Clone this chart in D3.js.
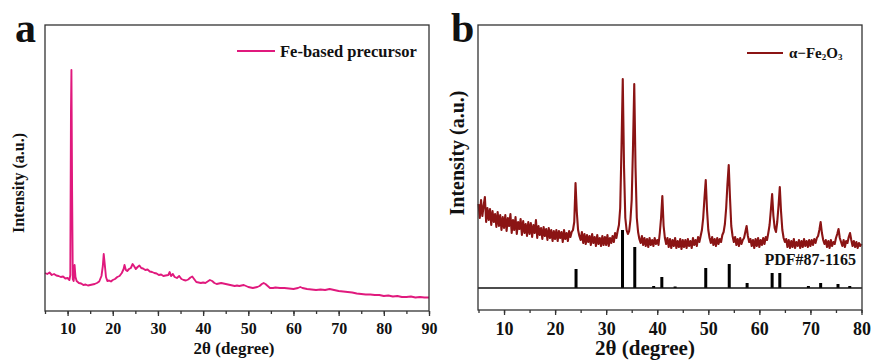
<!DOCTYPE html>
<html>
<head>
<meta charset="utf-8">
<script src="https://cdn.jsdelivr.net/npm/d3@7"></script>
<style>
  body { margin: 0; background: #fff; }
  svg text { font-family: "Liberation Serif", "Times New Roman", serif; font-weight: bold; fill: #111; }
</style>
</head>
<body>
<svg id="chart" width="871" height="360"></svg>
<script>
// panel a : Fe-based precursor, [2theta, intensity]
var precursor = [
  [5,38],[5.5,37],[6,38.5],[6.5,36],[7,37],[7.5,35.5],[8,35],[8.5,34],[9,34.5],[9.5,32.5],[10,33],[10.4,31],
  [10.6,36],[10.75,200],[10.85,241],[11.0,120],[11.15,32],[11.35,30],[11.55,46],[11.75,34],[12,30],[12.5,28],
  [13,27.5],[13.5,26],[14,26.5],[14.5,25.5],[15,26],[15.5,26.5],[16,27],[16.5,28],[17,29.5],[17.5,35],[17.8,45],
  [18.0,57],[18.2,48],[18.5,34],[18.8,30],[19.2,30.5],[19.6,29.5],[20,31],[20.5,32],[21,34],[21.5,35],[22,38],
  [22.4,42],[22.6,46],[22.9,41],[23.2,40],[23.6,42],[24,43],[24.4,47],[24.7,45],[25.1,42],[25.5,44],[25.9,45.5],
  [26.3,43],[26.7,42.5],[27.2,41],[27.7,41.5],[28.2,39.5],[28.7,39],[29.2,38],[29.7,37.5],[30.2,36],[30.7,36.5],
  [31.2,35],[31.7,35.5],[32.3,36],[32.6,39],[32.9,35],[33.3,37],[33.7,34],[34.2,33],[34.7,35],[35.2,32],[35.7,31],
  [36.2,30.5],[36.7,31.5],[37.2,33.5],[37.6,34.5],[38,32],[38.5,29],[39,28.5],[39.5,28],[40,28.5],[40.5,28],
  [41,29.5],[41.5,31],[42,30],[42.5,28],[43,27],[43.5,27.5],[44,28],[44.5,27.5],[45,27],[45.5,26.5],[46,26],
  [46.5,25.5],[47,25],[47.5,25.5],[48,25],[48.5,25.5],[49,26],[49.5,25],[50,24],[50.5,23.5],[51,23],[51.5,23.5],
  [52,24],[52.5,25],[53,27],[53.4,28],[53.8,27],[54.3,25],[54.8,23],[55.5,23],[56,23.5],[57,23],[58,23],
  [59,22.5],[60,22],[61,23],[61.5,24],[62,23],[63,22],[64,21.5],[65,21],[66,21.5],[67,21],[68,22],[69,21],
  [70,20],[71,19.5],[72,19],[73,18.5],[74,17.5],[75,17],[76,16.5],[77,16.5],[78,16],[79,16],[80,15],[81,15.5],
  [82,14.5],[83,15],[84,14],[85,14],[86,14.5],[87,13.5],[88,14],[89,13.5],[90,13.5]
];

// panel b : alpha-Fe2O3, measured every 0.25 deg from 5 to 80
var hematiteStart = 5, hematiteStep = 0.25;
var hematite = [
  84,70,88,72,82,91,66,80,68,79,63,77,66,74,61,76,62,73,58,71,      // 5 - 9.75
  60,73,57,70,62,74,55,68,58,71,54,66,59,69,53,67,55,64,52,66,      // 10 - 14.75
  54,65,51,63,55,68,50,62,53,60,49,61,52,59,48,60,50,58,47,57,      // 15 - 19.75
  49,58,47,57,50,56,46,58,49,55,47,57,51,56,58,66,105,76,58,52,     // 20 - 24.75
  48,56,45,54,44,53,46,52,43,54,45,51,42,53,44,50,42,52,43,51,      // 25 - 29.75
  43,53,42,50,45,52,46,55,50,57,63,80,140,209,120,70,58,54,57,68,   // 30 - 34.75
  88,140,204,120,70,56,49,45,52,43,50,42,49,41,50,43,48,42,50,44,   // 35 - 39.75
  48,43,55,70,92,62,50,44,50,41,49,40,48,42,50,40,47,41,49,39,      // 40 - 44.75
  48,41,48,40,49,42,47,40,50,43,48,42,51,46,52,58,70,90,108,78,     // 45 - 49.75
  58,50,45,51,43,49,42,50,44,49,46,53,56,64,80,104,123,90,62,52,    // 50 - 54.75
  46,51,43,49,42,50,44,48,50,56,62,52,46,49,42,48,40,49,42,50,      // 55 - 59.75
  41,48,43,50,44,51,48,55,63,78,94,72,60,56,66,82,101,76,58,50,     // 60 - 64.75
  46,49,41,48,40,47,41,49,40,46,42,48,40,47,41,49,42,47,41,48,      // 65 - 69.75
  42,48,43,49,45,50,52,58,66,55,48,44,48,41,47,40,48,42,46,44,      // 70 - 74.75
  50,54,59,50,46,42,48,41,47,45,51,55,48,42,47,41,46,40,45,42,      // 75 - 79.75
  44                                                                // 80
];

// PDF#87-1165 reference lines
var pdfAngle  = [24.1, 33.2, 35.6, 39.3, 40.9, 43.5, 49.5, 54.1, 57.6, 62.5, 64.0, 69.6, 72.0, 75.4, 77.7];
var pdfHeight = [19, 58, 41, 2, 11, 1.5, 20, 24, 5, 15, 15, 2, 5, 4, 2];

var aTicks = [10, 20, 30, 40, 50, 60, 70, 80, 90];
var bTicks = [10, 20, 30, 40, 50, 60, 70, 80];

var svg = d3.select("#chart");

// ---------- panel a ----------
var ax = d3.scaleLinear().domain([5, 90]).range([45, 429]);
var ay = d3.scaleLinear().domain([0, 286]).range([311, 25]);

var pa = svg.append("g");

pa.append("path")
  .datum(precursor)
  .attr("fill", "none")
  .attr("stroke", "#e0197d")
  .attr("stroke-width", 1.9)
  .attr("stroke-linejoin", "round")
  .attr("d", d3.line().x(function(d) { return ax(d[0]); }).y(function(d) { return ay(d[1]); }));

pa.append("rect")
  .attr("x", 45).attr("y", 25).attr("width", 384).attr("height", 286)
  .attr("fill", "none").attr("stroke", "#333").attr("stroke-width", 1.3);

var aMinor = pa.append("g").attr("transform", "translate(0,311)")
  .call(d3.axisBottom(ax).tickValues(d3.range(5, 91, 5)).tickSize(3).tickSizeOuter(0).tickFormat(""));
aMinor.select(".domain").remove();

var aAxis = pa.append("g").attr("transform", "translate(0,311)")
  .call(d3.axisBottom(ax).tickValues(aTicks).tickSize(5).tickSizeOuter(0));
aAxis.select(".domain").remove();
aAxis.selectAll("line").attr("stroke", "#333").attr("stroke-width", 1.3);
aMinor.selectAll("line").attr("stroke", "#333").attr("stroke-width", 1.3);
aAxis.selectAll("text").attr("y", 12).attr("dy", "0.71em").style("font-size", "16px").style("font-family", null);

pa.append("text").attr("x", 234).attr("y", 354).attr("text-anchor", "middle")
  .style("font-size", "17px").text("2θ (degree)");

pa.append("text").attr("transform", "translate(24,183) rotate(-90)").attr("text-anchor", "middle")
  .style("font-size", "16px").text("Intensity (a.u.)");

pa.append("text").attr("x", 15).attr("y", 42).style("font-size", "42px").text("a");

pa.append("line").attr("x1", 237).attr("x2", 275).attr("y1", 51).attr("y2", 51)
  .attr("stroke", "#e0197d").attr("stroke-width", 1.8);
pa.append("text").attr("x", 280).attr("y", 57).style("font-size", "16.5px").text("Fe-based precursor");

// ---------- panel b ----------
var bx = d3.scaleLinear().domain([5, 80]).range([478.5, 861.5]);
var by = d3.scaleLinear().domain([0, 263]).range([288, 25]);

var pb = svg.append("g");

pb.selectAll("rect.pdf")
  .data(pdfAngle)
  .enter()
    .append("rect")
    .attr("class", "pdf")
    .attr("x", function(d) { return bx(d) - 1.5; })
    .attr("width", 3)
    .attr("y", function(d, i) { return by(pdfHeight[i]); })
    .attr("height", function(d, i) { return by(0) - by(pdfHeight[i]); })
    .attr("fill", "#000");

pb.append("path")
  .datum(hematite)
  .attr("fill", "none")
  .attr("stroke", "#8b1414")
  .attr("stroke-width", 2.1)
  .attr("stroke-linejoin", "round")
  .attr("d", d3.line()
    .x(function(d, i) { return bx(hematiteStart + i * hematiteStep); })
    .y(function(d) { return by(d); }));

pb.append("line").attr("x1", 478).attr("x2", 862).attr("y1", by(0)).attr("y2", by(0))
  .attr("stroke", "#111").attr("stroke-width", 1.5);

pb.append("rect")
  .attr("x", 478).attr("y", 25).attr("width", 384).attr("height", 285)
  .attr("fill", "none").attr("stroke", "#333").attr("stroke-width", 1.3);

var bMinor = pb.append("g").attr("transform", "translate(0,310)")
  .call(d3.axisBottom(bx).tickValues(d3.range(5, 81, 5)).tickSize(3).tickSizeOuter(0).tickFormat(""));
bMinor.select(".domain").remove();

var bAxis = pb.append("g").attr("transform", "translate(0,310)")
  .call(d3.axisBottom(bx).tickValues(bTicks).tickSize(5).tickSizeOuter(0));
bAxis.select(".domain").remove();
bAxis.selectAll("line").attr("stroke", "#333").attr("stroke-width", 1.3);
bMinor.selectAll("line").attr("stroke", "#333").attr("stroke-width", 1.3);
bAxis.selectAll("text").attr("y", 12).attr("dy", "0.71em").style("font-size", "18px").style("font-family", null);

pb.append("text").attr("x", 645).attr("y", 355).attr("text-anchor", "middle")
  .style("font-size", "21px").text("2θ (degree)");

pb.append("text").attr("transform", "translate(464,153) rotate(-90)").attr("text-anchor", "middle")
  .style("font-size", "20px").text("Intensity (a.u.)");

pb.append("text").attr("x", 451).attr("y", 42).style("font-size", "42px").text("b");

pb.append("text").attr("x", 856).attr("y", 265).attr("text-anchor", "end")
  .style("font-size", "16px").text("PDF#87-1165");

pb.append("line").attr("x1", 747).attr("x2", 783).attr("y1", 53).attr("y2", 53)
  .attr("stroke", "#8b1414").attr("stroke-width", 2);
var leg = pb.append("text").attr("x", 789).attr("y", 58).style("font-size", "15px");
leg.append("tspan").text("α−Fe");
leg.append("tspan").attr("dy", 2).style("font-size", "9px").text("2");
leg.append("tspan").attr("dy", -2).text("O");
leg.append("tspan").attr("dy", 2).style("font-size", "9px").text("3");
</script>
</body>
</html>
